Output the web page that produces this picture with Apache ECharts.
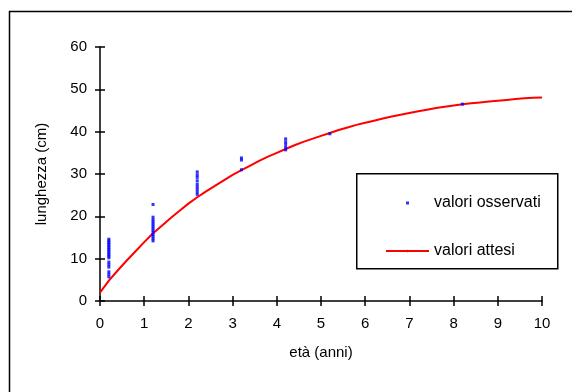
<!DOCTYPE html>
<html>
<head>
<meta charset="utf-8">
<script src="https://cdn.jsdelivr.net/npm/echarts@6/dist/echarts.min.js"></script>
<style>html,body{margin:0;padding:0;background:#fff}#c{width:572px;height:392px}</style>
</head>
<body>
<div id="c"></div>
<script>
// Expected (fitted) growth curve
var expX = [0,0.2,0.4,0.6,0.8,1.0,1.2,1.4,1.6,1.8,2.0,2.2,2.4,2.6,2.8,3.0,3.2,3.4,3.6,3.8,4.0,4.2,4.4,4.6,4.8,5.0,5.2,5.4,5.6,5.8,6.0,6.2,6.4,6.6,6.8,7.0,7.2,7.4,7.6,7.8,8.0,8.2,8.4,8.6,8.8,9.0,9.2,9.4,9.6,9.8,10.0];
var expY = [2.0,4.8,7.2,9.5,11.7,13.9,16.0,17.8,19.6,21.3,23.0,24.5,25.9,27.2,28.5,29.8,30.9,32.0,33.1,34.1,35.0,35.9,36.8,37.6,38.3,39.0,39.7,40.4,41.0,41.6,42.1,42.6,43.1,43.6,44.0,44.4,44.8,45.2,45.6,45.9,46.2,46.5,46.7,46.9,47.1,47.3,47.5,47.7,47.9,48.0,48.1];
// Observed values
var obsX = [0.2,0.2,0.2,0.2,0.2,0.2,0.2,0.2,0.2,0.2,0.2,0.2,0.2,0.2,0.2,0.2,0.2,0.2,
            1.2,1.2,1.2,1.2,1.2,1.2,1.2,1.2,1.2,1.2,1.2,1.2,1.2,
            2.2,2.2,2.2,2.2,2.2,2.2,2.2,2.2,2.2,
            3.2,3.2,3.2,
            4.2,4.2,4.2,4.2,4.2,
            5.2,
            8.2];
var obsY = [5.7,6.3,6.9,8.0,8.6,9.2,10.2,10.6,11.0,11.4,11.8,12.2,12.6,13.0,13.4,13.8,14.2,14.6,
            14.2,14.7,15.2,15.7,16.2,16.7,17.2,17.7,18.2,18.7,19.2,19.8,22.8,
            25.2,25.8,26.4,27.0,27.6,28.4,29.2,29.8,30.5,
            31.0,33.3,33.8,
            35.7,36.3,37.0,37.6,38.3,
            39.5,
            46.5];
var xTicks = [0,1,2,3,4,5,6,7,8,9,10];
var yTicks = [0,10,20,30,40,50,60];
var seriesNames = ['valori osservati','valori attesi'];
var xName = 'età (anni)';
var yName = 'lunghezza (cm)';

var obsData = obsX.map(function(x,i){return [x, obsY[i]];});
var expData = expX.map(function(x,i){return [x, expY[i]];});

var FONT = 'Liberation Sans, Arial, sans-serif';
var chart = echarts.init(document.getElementById('c'), null, {renderer:'canvas'});

function xAx(inside, main){
  return {
    type:'value', min:xTicks[0], max:xTicks[xTicks.length-1], interval:1,
    position:'bottom',
    name: main ? xName : '', nameLocation:'middle', nameGap:44,
    nameTextStyle:{color:'#000', fontFamily:FONT, fontSize:15},
    axisLine:{show:main, lineStyle:{color:'#000', width:1.5}},
    axisTick:{show:true, inside:inside, length:5, lineStyle:{color:'#000', width:1.5}},
    axisLabel:{show:main, color:'#000', fontFamily:FONT, fontSize:15, margin:15},
    splitLine:{show:false}
  };
}
function yAx(inside, main){
  return {
    type:'value', min:yTicks[0], max:yTicks[yTicks.length-1], interval:10,
    position:'left',
    name: main ? yName : '', nameLocation:'middle', nameGap:51,
    nameTextStyle:{color:'#000', fontFamily:FONT, fontSize:15},
    axisLine:{show:main, lineStyle:{color:'#000', width:1.5}},
    axisTick:{show:true, inside:inside, length:5, lineStyle:{color:'#000', width:1.5}},
    axisLabel:{show:main, color:'#000', fontFamily:FONT, fontSize:15, margin:13},
    splitLine:{show:false}
  };
}

chart.setOption({
  animation:false,
  backgroundColor:'#fff',
  grid:{left:100, right:30, top:47, bottom:91, containLabel:false},
  xAxis:[xAx(false,true), xAx(true,false)],
  yAxis:[yAx(false,true), yAx(true,false)],
  graphic:[
    {type:'rect', left:7, top:9, shape:{width:570, height:390}, style:{fill:'none', stroke:'#000', lineWidth:1.5}, silent:true, z:-1},
    {type:'rect', left:356, top:173, shape:{width:201, height:95}, style:{fill:'#fff', stroke:'#000', lineWidth:1.5}, silent:true, z:10}
  ],
  legend:{
    orient:'vertical', left:380, top:188, z:20,
    itemWidth:43, itemHeight:3, itemGap:28, symbolKeepAspect:true,
    textStyle:{color:'#000', fontFamily:FONT, fontSize:16, lineHeight:20},
    data:[
      {name:seriesNames[0], icon:'path://M0,0h10v10h-10z'},
      {name:seriesNames[1]}
    ]
  },
  series:[
    {
      name:seriesNames[0], type:'scatter', xAxisIndex:0, yAxisIndex:0,
      symbol:'rect', symbolSize:[3,3],
      itemStyle:{color:'#0000ff'},
      data:obsData, z:3
    },
    {
      name:seriesNames[1], type:'line', xAxisIndex:0, yAxisIndex:0,
      symbol:'none', smooth:false,
      lineStyle:{color:'#ff0000', width:2},
      itemStyle:{color:'#ff0000'},
      data:expData, z:2
    }
  ]
});
</script>
</body>
</html>
